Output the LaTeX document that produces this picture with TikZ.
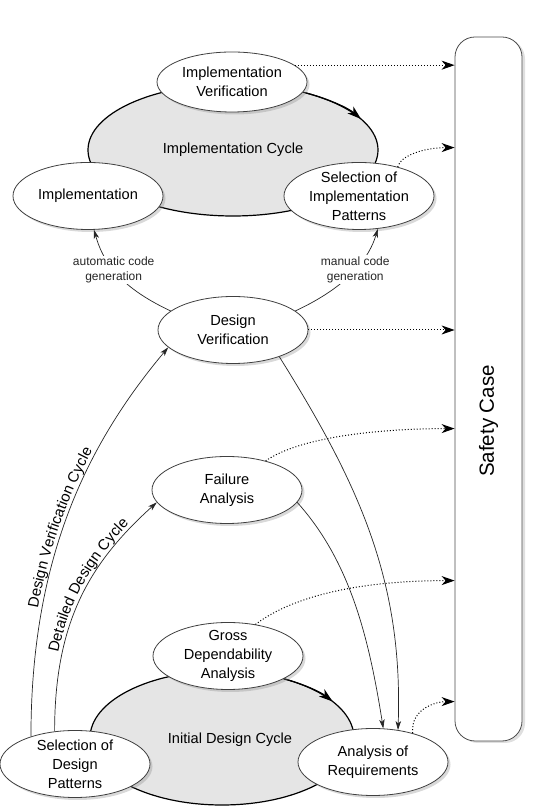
\documentclass[tikz,border=0pt]{standalone}
\usepackage{fontspec}
\setmainfont{Liberation Sans}
\usetikzlibrary{shapes,arrows.meta,positioning,shadows,calc,decorations.text}

\begin{document}
\begin{tikzpicture}[x=1pt,y=1pt]
\tikzstyle{phase}=[ellipse,draw=black!75,fill=white,line width=0.8pt,inner xsep=0pt,inner ysep=-10pt,minimum width=150pt,minimum height=67pt,align=center,font=\fontsize{14.6}{19}\selectfont,drop shadow={shadow xshift=2.5pt,shadow yshift=-2.5pt,opacity=0.3}]
\tikzstyle{cyclearea}=[ellipse,fill=black!10,draw=black,line width=1.2pt,inner sep=0pt,font=\fontsize{14.6}{19}\selectfont]
\tikzstyle{cyclearrow}=[line width=1.2pt,-{Stealth[length=14pt,width=9pt,inset=4pt]}]
\tikzstyle{flow}=[line width=0.7pt,black!85,-{Stealth[length=9pt,width=5.5pt,inset=2.5pt]}]
\tikzstyle{evidence}=[line width=1pt,dash pattern=on 1pt off 2pt,-{Stealth[length=13pt,width=9pt,inset=4pt]}]
\tikzstyle{codelbl}=[fill=white,align=center,inner sep=1pt,font=\fontsize{12}{15}\selectfont]

\useasboundingbox (0,0) rectangle (534,808);

% the two cycles
\node[cyclearea,minimum width=290pt,minimum height=132pt] (impcycle) at (233,658) {Implementation Cycle};
\draw[cyclearrow] (impcycle.center) ++(60:145 and 66) arc[start angle=60,end angle=28,x radius=145,y radius=66];
\node[cyclearea,minimum width=264pt,minimum height=134pt] (descycle) at (222,70) {};
\node[font=\fontsize{14.6}{19}\selectfont] (desname) at ($(descycle.center)+(8,-2)$) {Initial Design Cycle};
\draw[cyclearrow] (descycle.center) ++(62:132 and 67) arc[start angle=62,end angle=33,x radius=132,y radius=67];

% activities
\node[phase,minimum height=60pt] (iv) at (232,726) {Implementation\\Verification};
\node[phase] (impl) at (88,612) {Implementation};
\node[phase] (sip) at (359,612) {Selection of\\Implementation\\Patterns};
\node[phase] (dv) at (233,478) {Design\\Verification};
\node[phase] (fa) at (227,318) {Failure\\Analysis};
\node[phase] (gda) at (228,152) {Gross\\Dependability\\Analysis};
\node[phase] (sdp) at (75,44) {Selection of\\Design\\Patterns};
\node[phase] (ar) at (373,46) {Analysis of\\Requirements};

% safety case
\node[draw=black!70,fill=white,line width=0.8pt,rounded corners=20pt,minimum width=67pt,minimum height=704pt,drop shadow={shadow xshift=3pt,shadow yshift=-2pt,opacity=0.25}] (safety) at (488.5,419) {};
\node[rotate=90,font=\fontsize{20.5}{24}\selectfont] (sctitle) at ($(safety.center)+(0,-32)$) {Safety Case};
\coordinate (scsip) at ($(safety.north west)+(0,-111)$);
\coordinate (scfa) at ($(safety.north west)+(0,-392)$);
\coordinate (scgda) at ($(safety.north west)+(0,-544)$);
\coordinate (scar) at ($(safety.north west)+(0,-665)$);

% design flow
\draw[flow,postaction={decorate,decoration={text along path,text align=center,raise=4pt,
  text={|\fontsize{15}{18}\selectfont|Design Verification Cycle}}}]
  (sdp.148) to[out=90,in=230,out distance=176pt,in distance=129pt] (dv.195);
\draw[flow,postaction={decorate,decoration={text along path,text align={left,left indent=78pt},raise=4pt,
  text={|\fontsize{15}{18}\selectfont|Detailed Design Cycle}}}]
  (sdp.122) to[out=90,in=222,out distance=110pt,in distance=90pt] (fa.190);
\draw[flow] (dv.-30) to[out=-58,in=88,out distance=150pt,in distance=150pt] (ar.52);
\draw[flow] (fa.-10) to[out=-48,in=99,out distance=80pt,in distance=90pt] (ar.73);
\draw[flow] (dv.163) to[out=155,in=-74,out distance=60pt,in distance=30pt] node[codelbl,pos=0.52] (autolbl) {automatic code\\generation} (impl.-80);
\draw[flow] (dv.17) to[out=25,in=-107,out distance=60pt,in distance=30pt] node[codelbl,pos=0.52] (manlbl) {manual code\\generation} (sip.-60);

% evidence for the safety case
\draw[evidence] (iv.15) -- (iv.15 -| safety.west);
\draw[evidence] (sip.37) to[out=75,in=180,out distance=12pt,in distance=30pt] (scsip);
\draw[evidence] (dv.east) -- (dv.east -| safety.west);
\draw[evidence] (fa.37) to[out=35,in=180,out distance=40pt,in distance=80pt] (scfa);
\draw[evidence] (gda.49) to[out=37,in=180,out distance=50pt,in distance=90pt] (scgda);
\draw[evidence] (ar.36) to[out=95,in=180,out distance=25pt,in distance=18pt] (scar);
\end{tikzpicture}
\end{document}
